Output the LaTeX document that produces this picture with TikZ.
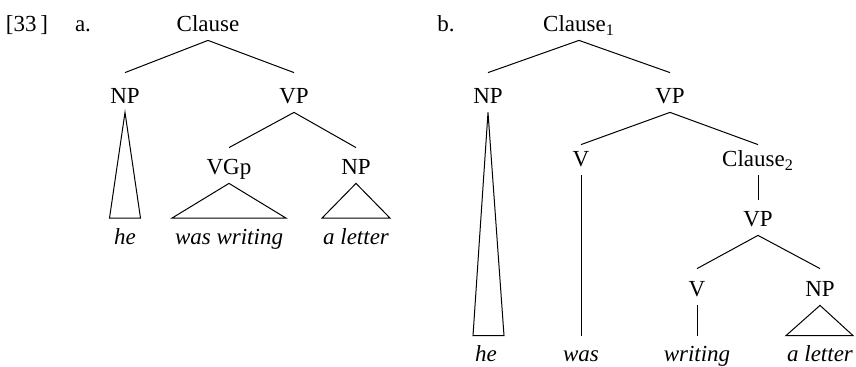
\documentclass[tikz,border=0pt]{standalone}
\usepackage{fontspec}
\setmainfont{Liberation Serif}
\begin{document}
\begin{tikzpicture}[x=0.5pt,y=-0.5pt,
  every node/.style={font=\fontsize{11.5}{13}\selectfont, inner xsep=0pt},
  cat/.style={anchor=base, text height=#1, text depth=0pt, inner ysep=4pt},
  cat/.default=9.5pt,
  leaf/.style={anchor=base, text height=9.25pt, text depth=0pt, inner ysep=4pt, font=\fontsize{11.5}{13}\selectfont\itshape},
  plain/.style={anchor=base},
  edge/.style={draw=black, line width=0.5pt, line join=miter}]
\useasboundingbox (0,0) rectangle (856,367);
% labels
\node[plain] (num) at (27,32) {[33\,]};
\node[plain] (la) at (83,32) {a.};
\node[plain] (lb) at (446,32) {b.};
% ---------- tree a ----------
\node[cat] (aC) at (208,32) {Clause};
\node[cat=11.5pt] (aNP) at (125,104) {NP};
\node[cat=11.5pt] (aVP) at (294,104) {VP};
\node[cat] (aVG) at (229,175) {VGp};
\node[cat] (aNP2) at (356,175) {NP};
\node[leaf] (ahe) at (125,245) {he};
\node[leaf] (awas) at (229,245) {was writing};
\node[leaf] (alet) at (356,245) {a letter};
\draw[edge] (aNP.north) -- (aC.south) -- (aVP.north);
\draw[edge] (aVG.north) -- (aVP.south) -- (aNP2.north);
\draw[edge] (aNP.south) -- ([xshift=-7.75pt]ahe.north) -- ([xshift=7.75pt]ahe.north) -- cycle;
\draw[edge] (aVG.south) -- ([xshift=-28.5pt]awas.north) -- ([xshift=28.5pt]awas.north) -- cycle;
\draw[edge] (aNP2.south) -- ([xshift=-17pt]alet.north) -- ([xshift=17pt]alet.north) -- cycle;
% ---------- tree b ----------
\node[cat] (bC) at (579,32) {Clause\textsubscript{1}};
\node[cat=11.5pt] (bNP) at (488,104) {NP};
\node[cat=11.5pt] (bVP) at (670,104) {VP};
\node[cat=7pt] (bV) at (581,167) {V};
\node[cat=7pt] (bC2) at (758,167) {Clause\textsubscript{2}};
\node[cat] (bVP2) at (758,227) {VP};
\node[cat=10pt] (bV2) at (697,297) {V};
\node[cat=10pt] (bNP3) at (820,297) {NP};
\node[leaf,text height=9pt] (bhe) at (486,362) {he};
\node[leaf,text height=9pt] (bwas) at (581,362) {was};
\node[leaf,text height=9pt] (bwri) at (697,362) {writing};
\node[leaf,text height=9pt] (blet) at (820,362) {a letter};
\draw[edge] (bNP.north) -- (bC.south) -- (bVP.north);
\draw[edge] (bV.north) -- (bVP.south) -- (bC2.north);
\draw[edge] (bC2.south) -- (bVP2.north);
\draw[edge] (bV2.north) -- (bVP2.south) -- (bNP3.north);
\draw[edge] (bV.south) -- (bwas.north);
\draw[edge] (bV2.south) -- (bwri.north);
\draw[edge] (bNP.south) -- ([xshift=-6.5pt]bhe.north) -- ([xshift=9pt]bhe.north) -- cycle;
\draw[edge] (bNP3.south) -- ([xshift=-17pt]blet.north) -- ([xshift=16.5pt]blet.north) -- cycle;
\end{tikzpicture}
\end{document}
